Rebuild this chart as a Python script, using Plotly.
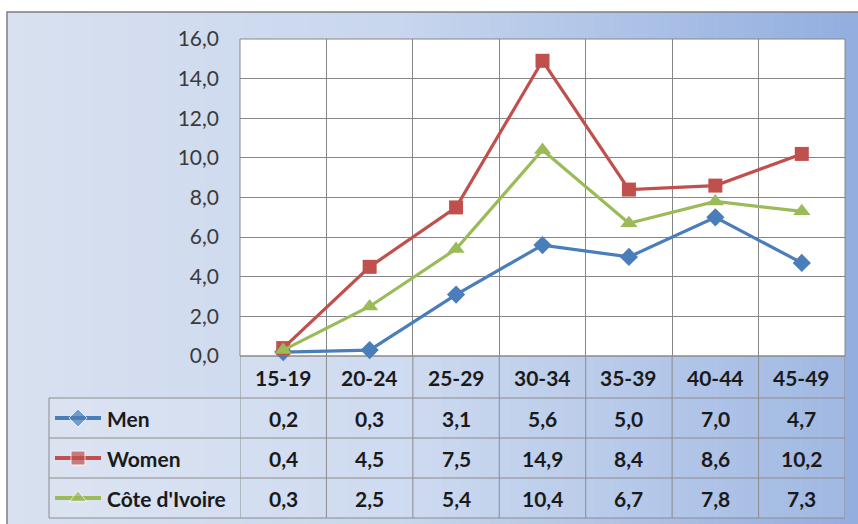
import plotly.graph_objects as go

categories = ["15-19", "20-24", "25-29", "30-34", "35-39", "40-44", "45-49"]
men = [0.2, 0.3, 3.1, 5.6, 5.0, 7.0, 4.7]
women = [0.4, 4.5, 7.5, 14.9, 8.4, 8.6, 10.2]
cote = [0.3, 2.5, 5.4, 10.4, 6.7, 7.8, 7.3]
series_names = ["Men", "Women", "Côte d'Ivoire"]

W, H = 858, 524
def px(x):
    return x / W
def py(y):
    return 1 - y / H

PL, PR, PT, PB = 240, 845, 39, 356   # plot area in pixels
TL = 49                              # table left edge
ROWS = [356, 398, 438, 478, 518]     # table row boundaries

colors = ["#4a7ebb", "#c0504d", "#9bbb59"]
symbols = ["diamond", "square", "triangle-up"]
msizes = [14, 14, 15]
series = [men, women, cote]

FONT = "Lato, 'Open Sans', sans-serif"

fig = go.Figure()
for name, vals, c, s, ms in zip(series_names, series, colors, symbols, msizes):
    fig.add_trace(go.Scatter(
        x=categories, y=vals, name=name, mode="lines+markers",
        line=dict(color=c, width=3.2),
        marker=dict(symbol=s, size=ms, color=c),
        cliponaxis=False, showlegend=False, xaxis="x", yaxis="y"))

# legend keys in the data table (pixel-space helper axes)
for i, (name, c, s, ms) in enumerate(zip(series_names, colors, symbols, msizes)):
    yc = (ROWS[i + 1] + ROWS[i + 2]) / 2
    fig.add_trace(go.Scatter(
        x=[55, 78, 101], y=[yc, yc, yc], mode="lines+markers",
        line=dict(color=c, width=4),
        marker=dict(symbol=s, size=[0, ms, 0], color=c),
        showlegend=False, hoverinfo="skip", cliponaxis=False,
        xaxis="x2", yaxis="y2"))

shapes = []
# gradient background frame
def lerp(a, b, t):
    return tuple(round(a[k] + (b[k] - a[k]) * t) for k in range(3))
stops = [(7, (217, 225, 240)), (400, (200, 214, 238)), (858, (146, 174, 223))]
N = 90
x0 = 7
for i in range(N):
    xa = x0 + (W - x0) * i / N
    xb = x0 + (W - x0) * (i + 1) / N + 0.6
    xm = (xa + xb) / 2
    for j in range(len(stops) - 1):
        if stops[j][0] <= xm <= stops[j + 1][0]:
            t = (xm - stops[j][0]) / (stops[j + 1][0] - stops[j][0])
            col = lerp(stops[j][1], stops[j + 1][1], t)
            break
    shapes.append(dict(type="rect", xref="paper", yref="paper",
                       x0=px(xa), x1=px(min(xb, W)), y0=0, y1=py(12),
                       fillcolor="rgb(%d,%d,%d)" % col, line=dict(width=0),
                       layer="below"))
# outer frame border
shapes.append(dict(type="rect", xref="paper", yref="paper",
                   x0=px(7), x1=px(W + 5), y0=py(H + 5), y1=py(12),
                   line=dict(color="#7f7f7f", width=1.5), fillcolor="rgba(0,0,0,0)",
                   layer="below"))
# table cell tint
shapes.append(dict(type="rect", xref="paper", yref="paper",
                   x0=px(TL), x1=px(PR), y0=py(ROWS[-1]), y1=py(ROWS[1]),
                   fillcolor="rgba(255,255,255,0.12)", line=dict(width=0), layer="below"))
shapes.append(dict(type="rect", xref="paper", yref="paper",
                   x0=px(PL), x1=px(PR), y0=py(ROWS[1]), y1=py(ROWS[0]),
                   fillcolor="rgba(255,255,255,0.12)", line=dict(width=0), layer="below"))
# white plot area
shapes.append(dict(type="rect", xref="paper", yref="paper",
                   x0=px(PL), x1=px(PR), y0=py(PB), y1=py(PT),
                   fillcolor="white", line=dict(color="#868686", width=1), layer="below"))
# table lines
gl = "#8c8c8c"
shapes.append(dict(type="line", xref="paper", yref="paper", x0=px(PL), x1=px(PR),
                   y0=py(ROWS[0]), y1=py(ROWS[0]), line=dict(color=gl, width=1), layer="below"))
for r in ROWS[1:]:
    shapes.append(dict(type="line", xref="paper", yref="paper", x0=px(TL), x1=px(PR),
                       y0=py(r), y1=py(r), line=dict(color=gl, width=1), layer="below"))
shapes.append(dict(type="line", xref="paper", yref="paper", x0=px(TL), x1=px(TL),
                   y0=py(ROWS[1]), y1=py(ROWS[-1]), line=dict(color=gl, width=1), layer="below"))
for k in range(len(categories) + 1):
    shapes.append(dict(type="line", xref="x", yref="paper", x0=k - 0.5, x1=k - 0.5,
                       y0=py(ROWS[0]), y1=py(ROWS[-1]), line=dict(color=gl, width=1),
                       layer="below"))

annotations = []
tf = dict(family=FONT, size=21, color="#1a1a1a")
for c in categories:
    annotations.append(dict(x=c, y=py((ROWS[0] + ROWS[1]) / 2), xref="x", yref="paper",
                            xanchor="center", yanchor="middle",
                            text="<b>%s</b>" % c, showarrow=False, font=tf))
for i, (name, vals) in enumerate(zip(series_names, series)):
    yc = py((ROWS[i + 1] + ROWS[i + 2]) / 2)
    annotations.append(dict(x=px(105), y=yc, xref="paper", yref="paper", xanchor="left",
                            yanchor="middle",
                            text="<b>%s</b>" % name, showarrow=False, font=tf))
    for c, v in zip(categories, vals):
        annotations.append(dict(x=c, y=yc, xref="x", yref="paper",
                                xanchor="center", yanchor="middle",
                                text="<b>%s</b>" % f"{v:.1f}".replace(".", ","),
                                showarrow=False, font=tf))

fig.update_layout(
    width=W, height=H,
    margin=dict(l=0, r=0, t=0, b=0, pad=0),
    paper_bgcolor="white",
    plot_bgcolor="rgba(0,0,0,0)",
    separators=",.",
    showlegend=False,
    shapes=shapes,
    annotations=annotations,
    xaxis=dict(domain=[px(PL), px(PR)], type="category", tickson="boundaries",
               showgrid=True, gridcolor="#868686", gridwidth=1, automargin=False,
               showticklabels=False, ticks="", showline=False, zeroline=False,
               range=[-0.5, len(categories) - 0.5], anchor="y"),
    yaxis=dict(domain=[py(PB), py(PT)], range=[0, 16], dtick=2, tickformat=".1f",
               showgrid=True, gridcolor="#868686", gridwidth=1, zeroline=False,
               showline=False, ticks="", ticklabelstandoff=20, automargin=False,
               tickfont=dict(family=FONT, size=21, color="#3a3a3a"),
               anchor="x"),
    xaxis2=dict(domain=[0, 1], range=[0, W], visible=False, showticklabels=False,
                automargin=False, anchor="y2", fixedrange=True),
    yaxis2=dict(domain=[0, 1], range=[H, 0], visible=False, showticklabels=False,
                automargin=False, anchor="x2", fixedrange=True),
)

fig.write_html("out.html")
